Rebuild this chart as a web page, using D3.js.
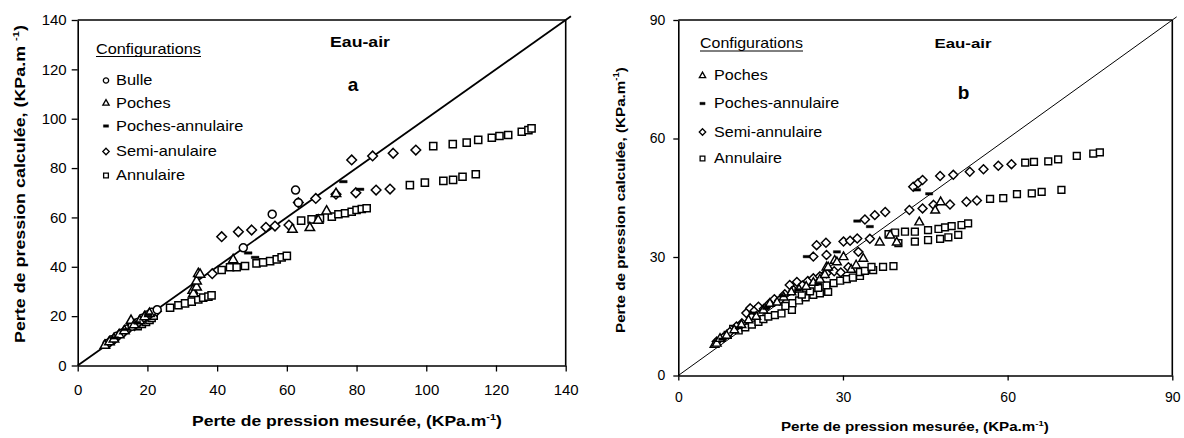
<!DOCTYPE html>
<html><head><meta charset="utf-8">
<script src="https://cdn.jsdelivr.net/npm/d3@7"></script>
<style>
body{margin:0;background:#fff;}
svg{display:block;font-family:"Liberation Sans",Arial,sans-serif;}
</style></head><body>
<svg id="c" width="1184" height="438"></svg>
<script>
// ---------- tick labels ----------
const leftTicks = [0, 20, 40, 60, 80, 100, 120, 140];
const rightTicks = [0, 30, 60, 90];

// ---------- legend labels ----------
const leftLegend = ["Bulle", "Poches", "Poches-annulaire", "Semi-anulaire", "Annulaire"];
const rightLegend = ["Poches", "Poches-annulaire", "Semi-annulaire", "Annulaire"];

// ---------- panel a (measured, calculated) ----------
const leftBulle = [[8.4,8.9],[9.8,10.4],[11.2,11.9],[12.6,13.1],[14.1,14.8],[15.6,15.9],[17.2,17.4],[18.6,19.2],[19.9,20.5],[21.2,21.6],[22.8,22.6],[47.5,47.7],[55.8,61.3],[62.5,71.1],[63.3,66.0]];
const leftPoches = [[7.8,8.3],[9.1,9.7],[10.4,10.9],[11.9,12.6],[13.4,14.2],[15.3,18.4],[16.2,16.6],[17.8,18.2],[19.2,19.9],[20.6,21.2],[33.0,30.6],[33.2,29.3],[34.1,31.9],[34.1,34.4],[34.6,37.4],[35.1,37.1],[44.6,43.0],[61.6,55.3],[66.6,56.0],[69.0,59.0],[71.4,62.7],[74.1,69.8]];
const leftPochesAnn = [[10.6,11.2],[13.8,14.6],[17.0,17.4],[20.2,20.6],[48.9,45.6],[50.9,43.8],[76.2,74.5],[81.0,71.4]];
const leftSemi = [[9.0,9.2],[10.4,10.5],[11.8,12.3],[13.2,13.5],[14.8,15.3],[16.3,16.2],[17.8,17.9],[19.4,19.6],[20.8,20.9],[22.6,22.0],[38.6,37.2],[41.3,52.2],[46.1,54.2],[49.9,54.9],[54.0,56.0],[56.6,56.5],[60.6,56.9],[63.3,66.0],[68.3,67.7],[74.1,69.4],[79.8,70.0],[85.6,71.1],[89.6,71.5],[78.6,83.3],[84.6,84.9],[90.5,86.0],[97.0,87.3]];
const leftAnnulaire = [[17.2,15.9],[18.4,16.8],[19.6,17.7],[20.6,18.5],[21.2,19.3],[21.8,20.2],[26.5,23.4],[28.9,24.4],[30.8,25.2],[32.7,25.9],[34.6,26.8],[36.0,27.5],[37.5,27.9],[38.4,28.4],[41.3,38.7],[43.7,39.8],[45.6,39.8],[48.0,40.3],[51.3,41.4],[53.2,41.8],[55.2,42.3],[57.1,43.0],[58.5,43.8],[60.0,44.4],[64.1,58.7],[67.1,59.2],[69.5,59.6],[72.9,60.3],[74.8,61.3],[76.7,61.7],[78.6,62.3],[80.0,63.0],[81.5,63.4],[82.9,63.7],[95.3,73.1],[99.6,74.1],[104.9,74.8],[107.7,75.2],[110.4,76.5],[114.2,77.5],[102.0,88.9],[107.6,89.7],[111.6,90.3],[114.9,91.4],[118.8,92.3],[121.0,93.0],[123.5,93.4],[127.4,94.7],[129.3,95.4],[130.2,96.1]];

// ---------- panel b ----------
const rightPoches = [[6.6,7.9],[7.0,8.2],[7.6,9.4],[8.8,10.2],[10.2,11.6],[11.5,12.9],[12.8,14.1],[14.2,15.0],[15.5,16.6],[16.7,18.3],[18.0,18.6],[19.2,19.9],[20.6,21.2],[22.0,21.9],[23.3,22.6],[24.6,23.6],[25.8,24.4],[26.7,25.6],[27.0,27.5],[27.3,27.5],[28.5,29.2],[28.9,28.8],[30.1,30.1],[31.5,26.9],[32.4,28.0],[33.7,29.7],[36.7,33.8],[38.6,35.6],[39.8,33.8],[43.9,38.9],[46.8,41.9],[47.8,44.0]];
const rightPochesAnn = [[8.0,9.2],[11.0,12.1],[13.5,15.8],[16.0,17.0],[19.0,20.2],[21.8,21.7],[23.4,30.1],[25.5,23.2],[28.9,31.3],[32.6,39.1],[34.9,37.7],[43.5,47.0],[45.7,46.0]];
const rightSemi = [[7.0,8.6],[8.2,9.6],[9.4,11.0],[10.6,12.4],[11.6,13.2],[12.4,15.8],[13.1,17.0],[13.9,16.4],[14.6,17.4],[15.6,16.9],[16.6,18.2],[17.5,19.3],[18.4,19.0],[19.4,20.6],[20.3,22.9],[21.0,21.6],[21.6,23.7],[22.6,22.8],[23.6,23.9],[24.6,24.6],[25.8,25.1],[27.0,25.9],[28.4,26.4],[29.6,26.1],[31.0,27.4],[24.6,30.1],[25.2,33.0],[26.9,33.6],[27.0,30.5],[30.1,33.9],[31.3,34.1],[32.6,34.7],[32.8,31.3],[34.9,34.6],[34.0,39.5],[35.8,40.6],[37.7,41.4],[42.1,41.9],[44.5,42.3],[46.5,43.2],[49.5,43.3],[52.5,44.0],[54.4,44.3],[42.8,47.8],[43.7,48.7],[44.5,49.5],[47.7,50.5],[50.1,50.8],[53.1,51.6],[55.6,52.2],[58.3,53.1],[60.7,53.5]];
const rightAnnulaire = [[9.0,10.3],[10.0,11.8],[11.0,11.4],[12.2,12.2],[13.4,12.9],[14.6,13.6],[15.5,14.3],[16.4,14.9],[17.6,15.3],[18.8,15.7],[20.7,16.6],[19.5,17.6],[20.8,18.3],[22.0,19.0],[23.2,19.8],[24.6,20.4],[25.8,20.8],[27.3,21.2],[22.5,20.5],[24.0,21.3],[25.5,22.2],[27.0,22.8],[28.3,23.4],[29.5,24.0],[30.7,24.4],[31.8,24.8],[33.1,25.2],[33.1,26.2],[34.0,26.5],[35.5,26.7],[35.2,27.5],[37.3,27.5],[39.2,27.7],[38.3,35.8],[39.5,36.2],[41.3,36.4],[43.1,36.4],[45.5,36.8],[47.4,37.1],[48.6,37.5],[49.8,37.8],[51.6,38.1],[52.8,38.5],[40.1,33.5],[43.1,33.9],[45.5,34.3],[47.7,34.6],[49.2,35.0],[51.0,35.6],[56.8,44.7],[59.2,44.9],[61.7,45.9],[64.4,46.1],[66.2,46.5],[69.8,47.0],[63.2,53.9],[64.8,54.1],[67.4,54.2],[69.2,54.7],[72.6,55.6],[75.6,56.2],[76.8,56.5]];

const svg = d3.select("#c");

// ---------- helpers ----------
function label(g, x, y, parts, o) {
  const size = o.size;
  const t = g.append("text").attr("font-size", size)
    .attr("font-weight", o.bold ? "bold" : "normal").attr("fill", "#000");
  parts.forEach((p, i) => {
    const ts = t.append("tspan").text(p[0]);
    if (p[1]) ts.attr("font-size", size * 0.62).attr("dy", -size * 0.42);
    else if (i > 0 && parts[i - 1][1]) ts.attr("dy", size * 0.42);
  });
  const w = t.node().getComputedTextLength();
  const sx = o.w ? o.w / w : (o.sx || 1);
  const a = o.anchor === "middle" ? 0.5 : o.anchor === "end" ? 1 : 0;
  t.attr("transform", `translate(${x},${y}) rotate(${o.rot || 0}) scale(${sx},1) translate(${-w * a},0)`);
  return t;
}

function shapePath(type, k) {
  if (type === "diamond") { const r = 4.6 * k; return `M0,${-r}L${r},0L0,${r}L${-r},0Z`; }
  if (type === "triangle") { const h = 4.8 * k, b = 4.5 * k; return `M0,${-h}L${b},${h * 0.65}L${-b},${h * 0.65}Z`; }
  if (type === "square") { const s = 3.4 * k; return `M${-s},${-s}H${s}V${s}H${-s}Z`; }
  if (type === "circle") { const r = 3.8 * k; return `M${r},0A${r},${r} 0 1,1 ${-r},0A${r},${r} 0 1,1 ${r},0Z`; }
  if (type === "dash") { const w = 3.7 * k, h = 1.25; return `M${-w},${-h}H${w}V${h}H${-w}Z`; }
}

function markers(g, data, type, xs, ys, k, sw) {
  g.append("g").selectAll("path").data(data).join("path")
    .attr("transform", d => `translate(${xs(d[0])},${ys(d[1])})`)
    .attr("d", shapePath(type, k))
    .attr("fill", type === "dash" ? "#000" : "#fff")
    .attr("stroke", "#000")
    .attr("stroke-width", type === "dash" ? 0.4 : sw);
}

function styleAxis(sel, fs) {
  sel.select(".domain").attr("stroke", "#000").attr("stroke-width", 1.6);
  sel.selectAll(".tick line").attr("stroke", "#000").attr("stroke-width", 1.3);
  sel.selectAll(".tick text").attr("font-size", fs).attr("fill", "#000")
    .attr("font-family", '"Liberation Sans",Arial,sans-serif');
}

// ================= PANEL A =================
const xL = d3.scaleLinear().domain([0, 140]).range([77.7, 565.7]);
const yL = d3.scaleLinear().domain([0, 140]).range([365.5, 20]);
const gA = svg.append("g");

gA.append("line").attr("x1", xL(0)).attr("x2", xL(140)).attr("y1", yL(140)).attr("y2", yL(140)).attr("stroke", "#000").attr("stroke-width", 1.6);
gA.append("line").attr("x1", xL(140)).attr("x2", xL(140)).attr("y1", yL(140)).attr("y2", yL(0)).attr("stroke", "#000").attr("stroke-width", 1.6);

const axAx = gA.append("g").attr("transform", `translate(0,${yL(0)})`)
  .call(d3.axisBottom(xL).tickValues(leftTicks).tickFormat(d3.format("d")).tickSize(6).tickPadding(13).tickSizeOuter(0));
styleAxis(axAx, 15);
const axAy = gA.append("g").attr("transform", `translate(${xL(0)},0)`)
  .call(d3.axisLeft(yL).tickValues(leftTicks).tickFormat(d3.format("d")).tickSize(6).tickPadding(5).tickSizeOuter(0));
styleAxis(axAy, 15);

gA.append("path").datum([[0, 0], [141.5, 141.5]])
  .attr("d", d3.line().x(d => xL(d[0])).y(d => yL(d[1])))
  .attr("stroke", "#000").attr("stroke-width", 1.8).attr("fill", "none");

markers(gA, leftAnnulaire, "square", xL, yL, 1.05, 1.5);
markers(gA, leftSemi, "diamond", xL, yL, 1.05, 1.5);
markers(gA, leftBulle, "circle", xL, yL, 1.05, 1.5);
markers(gA, leftPoches, "triangle", xL, yL, 1.05, 1.5);
markers(gA, leftPochesAnn, "dash", xL, yL, 1.05, 1.5);

label(gA, 96, 53.5, [["Configurations"]], {size: 14, w: 105});
gA.append("line").attr("x1", 96).attr("x2", 201).attr("y1", 56.5).attr("y2", 56.5).attr("stroke", "#000").attr("stroke-width", 1);
const legAY = [85, 107.5, 130.5, 156, 180];
const legATypes = ["circle", "triangle", "dash", "diamond", "square"];
leftLegend.forEach((s, i) => {
  const cy = legAY[i] - 4.5;
  gA.append("path").attr("transform", `translate(106,${cy})`).attr("d", shapePath(legATypes[i], 0.7))
    .attr("fill", legATypes[i] === "dash" ? "#000" : "#fff").attr("stroke", "#000").attr("stroke-width", legATypes[i] === "dash" ? 0.4 : 1.3);
  label(gA, 116, legAY[i], [[s]], {size: 14, sx: 1.17});
});
label(gA, 360, 47, [["Eau-air"]], {size: 15, bold: true, anchor: "middle", w: 60});
label(gA, 353, 91, [["a"]], {size: 19, bold: true, anchor: "middle"});

label(gA, 347, 426, [["Perte de pression mesurée, (KPa.m"], ["-1", true], [")"]], {size: 15, bold: true, anchor: "middle", w: 310});
label(gA, 25, 184, [["Perte de pression calculée, (KPa.m "], ["-1", true], [")"]], {size: 15, bold: true, anchor: "middle", rot: -90, w: 318});

// ================= PANEL B =================
const xR = d3.scaleLinear().domain([0, 90]).range([678.3, 1172.3]);
const yR = d3.scaleLinear().domain([0, 90]).range([375.5, 20]);
const gB = svg.append("g");

gB.append("line").attr("x1", xR(0)).attr("x2", xR(90)).attr("y1", yR(90)).attr("y2", yR(90)).attr("stroke", "#000").attr("stroke-width", 1.6);
gB.append("line").attr("x1", xR(90)).attr("x2", xR(90)).attr("y1", yR(90)).attr("y2", yR(0)).attr("stroke", "#000").attr("stroke-width", 1.6);

const axBx = gB.append("g").attr("transform", `translate(0,${yR(0)})`)
  .call(d3.axisBottom(xR).tickValues(rightTicks).tickFormat(d3.format("d")).tickSize(5).tickPadding(12).tickSizeOuter(0));
styleAxis(axBx, 14);
const axBy = gB.append("g").attr("transform", `translate(${xR(0)},0)`)
  .call(d3.axisLeft(yR).tickValues(rightTicks).tickFormat(d3.format("d")).tickSize(5).tickPadding(8).tickSizeOuter(0));
styleAxis(axBy, 14);

gB.append("path").datum([[0, 0], [90.8, 90.8]])
  .attr("d", d3.line().x(d => xR(d[0])).y(d => yR(d[1])))
  .attr("stroke", "#000").attr("stroke-width", 1).attr("fill", "none");

markers(gB, rightAnnulaire, "square", xR, yR, 1.0, 1.45);
markers(gB, rightSemi, "diamond", xR, yR, 0.97, 1.45);
markers(gB, rightPoches, "triangle", xR, yR, 0.97, 1.45);
markers(gB, rightPochesAnn, "dash", xR, yR, 0.97, 1.45);

label(gB, 700, 48, [["Configurations"]], {size: 14, w: 103});
gB.append("line").attr("x1", 700).attr("x2", 803).attr("y1", 51).attr("y2", 51).attr("stroke", "#000").attr("stroke-width", 1);
const legBY = [80, 108, 136.5, 163];
const legBTypes = ["triangle", "dash", "diamond", "square"];
rightLegend.forEach((s, i) => {
  const cy = legBY[i] - 4.5;
  gB.append("path").attr("transform", `translate(702.5,${cy})`).attr("d", shapePath(legBTypes[i], 0.7))
    .attr("fill", legBTypes[i] === "dash" ? "#000" : "#fff").attr("stroke", "#000").attr("stroke-width", legBTypes[i] === "dash" ? 0.4 : 1.3);
  label(gB, 714, legBY[i], [[s]], {size: 14, sx: 1.15});
});
label(gB, 963, 48, [["Eau-air"]], {size: 13, bold: true, anchor: "middle", w: 57});
label(gB, 963.5, 99, [["b"]], {size: 19, bold: true, anchor: "middle"});

label(gB, 915, 431, [["Perte de pression mesurée, (KPa.m"], ["-1", true], [")"]], {size: 13, bold: true, anchor: "middle", w: 268});
label(gB, 625, 200, [["Perte de pression calculée, (KPa.m"], ["-1", true], [")"]], {size: 13.5, bold: true, anchor: "middle", rot: -90, w: 266});
</script>
</body></html>
